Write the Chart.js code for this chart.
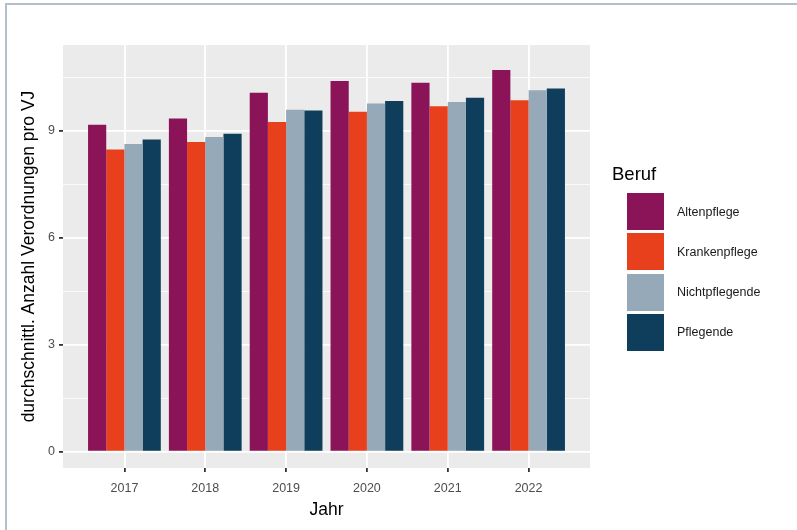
<!DOCTYPE html>
<html>
<head>
<meta charset="utf-8">
<script src="https://cdn.jsdelivr.net/npm/chart.js@4"></script>
<style>
  body { margin: 0; background: #fff; font-family: "Liberation Sans", Arial, sans-serif; }
  #wrap { position: relative; width: 797px; height: 530px; }
  #frame { position: absolute; left: 5px; top: 3px; right: -10px; bottom: -10px;
           border-left: 2px solid #b3c0cc; border-top: 2px solid #b3c0cc; pointer-events: none; }
  #legend { position: absolute; left: 612px; top: 163px; }
  #legend .title { font-size: 18.5px; color: #000; margin-bottom: 8px; }
  #legend .item { display: flex; align-items: center; height: 37px; margin-bottom: 3.3px; margin-left: 15px; }
  #legend .key { width: 37px; height: 37px; margin-right: 13px; }
  #legend .lab { font-size: 12.5px; color: #1a1a1a; }
</style>
</head>
<body>
<div id="wrap">
  <canvas id="chart" width="797" height="530"></canvas>
  <div id="frame"></div>
  <div id="legend"><div class="title">Beruf</div></div>
</div>
<script>
// Werte
const years = ['2017', '2018', '2019', '2020', '2021', '2022'];
const berufe = ['Altenpflege', 'Krankenpflege', 'Nichtpflegende', 'Pflegende'];
const altenpflege = [9.17, 9.35, 10.07, 10.40, 10.35, 10.71];
const krankenpflege = [8.48, 8.69, 9.25, 9.54, 9.69, 9.86];
const nichtpflegende = [8.63, 8.83, 9.59, 9.77, 9.81, 10.14];
const pflegende = [8.76, 8.92, 9.57, 9.84, 9.93, 10.19];
const colors = ['#8b1458', '#e8401c', '#95a9b8', '#0f3e5c'];
const yTicks = [0, 1.5, 3, 4.5, 6, 7.5, 9, 10.5];

const series = [altenpflege, krankenpflege, nichtpflegende, pflegende];

// grey ggplot-style panel behind the bars
const panelBg = {
    id: 'panelBg',
    beforeDraw(chart) {
        const a = chart.chartArea;
        const ctx = chart.ctx;
        ctx.save();
        ctx.fillStyle = '#ebebeb';
        ctx.fillRect(a.left, a.top, a.right - a.left, a.bottom - a.top);
        ctx.restore();
    }
};

const isMajor = (c) => c.tick && c.tick.value % 3 === 0;

const ctx = document.getElementById('chart').getContext('2d');
const chart = new Chart(ctx, {
    type: 'bar',
    data: {
        datasets: series.map((vals, i) => ({
            label: berufe[i],
            data: vals.map((v, j) => ({ x: j + 1, y: v })),
            backgroundColor: colors[i],
            borderWidth: 0,
            categoryPercentage: 0.9,
            barPercentage: 1.0
        }))
    },
    options: {
        responsive: false,
        animation: false,
        layout: { padding: { top: 45, right: 207, bottom: 0, left: 0 } },
        plugins: { legend: { display: false }, tooltip: { enabled: false } },
        scales: {
            x: {
                type: 'linear',
                offset: false,
                min: 0.24,
                max: 6.76,
                afterBuildTicks: (s) => { s.ticks = years.map((_, i) => ({ value: i + 1 })); },
                afterFit: (s) => { s.height = 62; },
                border: { display: false },
                grid: { offset: false, color: '#ffffff', lineWidth: 1.8, tickColor: '#333333', tickLength: 4 },
                ticks: {
                    callback: (v) => years[v - 1],
                    color: '#4d4d4d',
                    font: { family: 'Liberation Sans', size: 12.5 },
                    padding: 9,
                    maxRotation: 0
                },
                title: {
                    display: true,
                    text: 'Jahr',
                    color: '#000',
                    font: { family: 'Liberation Sans', size: 17.5 },
                    padding: { top: 0, bottom: 9 }
                }
            },
            y: {
                min: -0.46,
                max: 11.41,
                afterBuildTicks: (s) => { s.ticks = yTicks.map(v => ({ value: v })); },
                afterFit: (s) => { s.width = 63; },
                border: { display: false },
                grid: {
                    color: '#ffffff',
                    lineWidth: (c) => isMajor(c) ? 1.8 : 0.8,
                    tickColor: (c) => isMajor(c) ? '#333333' : 'rgba(0,0,0,0)',
                    tickLength: 4
                },
                ticks: {
                    callback: (v) => v % 3 === 0 ? v : '',
                    color: '#4d4d4d',
                    font: { family: 'Liberation Sans', size: 12.5 },
                    padding: 4
                },
                title: {
                    display: true,
                    text: 'durchschnittl. Anzahl Verordnungen pro VJ',
                    color: '#000',
                    font: { family: 'Liberation Sans', size: 17.5 },
                    padding: { top: 19, bottom: 0 }
                }
            }
        }
    },
    plugins: [panelBg]
});

// legend built from the datasets
const legend = document.getElementById('legend');
chart.data.datasets.forEach(ds => {
    const item = document.createElement('div');
    item.className = 'item';
    item.innerHTML = `<div class="key" style="background:${ds.backgroundColor}"></div><span class="lab">${ds.label}</span>`;
    legend.appendChild(item);
});
</script>
</body>
</html>
